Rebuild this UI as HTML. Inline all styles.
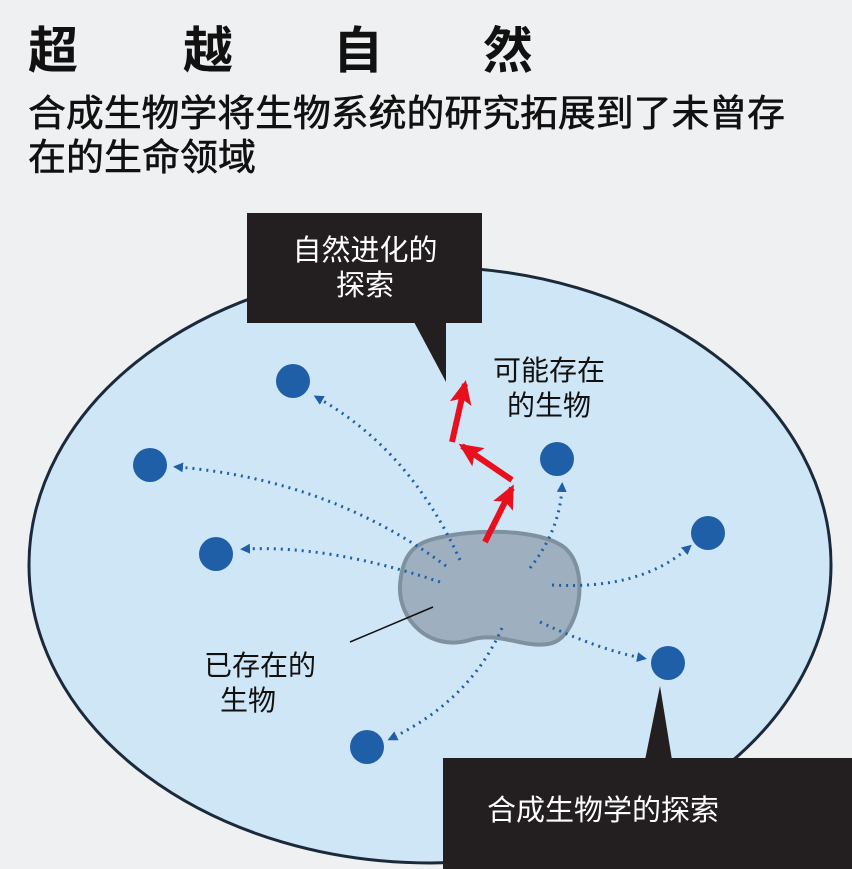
<!DOCTYPE html>
<html><head><meta charset="utf-8"><style>
html,body{margin:0;padding:0;background:#eef0f2;}
body{width:852px;height:869px;overflow:hidden;position:relative;font-family:"Liberation Sans","Noto Sans CJK SC",sans-serif;}
</style></head><body>
<svg width="852" height="869" viewBox="0 0 852 869" xmlns="http://www.w3.org/2000/svg" style="position:absolute;left:0;top:0">
<defs>
<marker id="ba" markerWidth="10" markerHeight="10" refX="5" refY="5" orient="auto" markerUnits="userSpaceOnUse"><path d="M0,0 L10,5 L0,10 Z" fill="#1f5fa8"/></marker>
<marker id="ra" markerWidth="24" markerHeight="22" refX="20" refY="11" orient="auto" markerUnits="userSpaceOnUse"><path d="M0,0 L24,11 L0,22 L5,11 Z" fill="#e8101e"/></marker>
</defs>
<ellipse cx="430" cy="565" rx="401" ry="298" fill="#cfe6f6" stroke="#1b2a3a" stroke-width="3"/>
<g font-family="Liberation Sans, Noto Sans CJK SC, sans-serif" font-weight="bold" font-size="50" fill="#111">
<text x="28" y="68">超</text><text x="183" y="68">越</text><text x="333" y="68">自</text><text x="483" y="68">然</text>
</g>
<g font-family="Liberation Sans, Noto Sans CJK SC, sans-serif" font-size="37" fill="#111" stroke="#111" stroke-width="0.6">
<text x="28" y="126" textLength="757" lengthAdjust="spacingAndGlyphs">合成生物学将生物系统的研究拓展到了未曾存</text>
<text x="28" y="170" textLength="228" lengthAdjust="spacingAndGlyphs">在的生命领域</text>
</g>
<path d="M414,322 L446,322 L446,382 Z" fill="#231f20"/>
<rect x="247" y="213" width="235" height="110" fill="#231f20"/>
<text x="365" y="260" text-anchor="middle" font-size="29" fill="#fff" font-family="Liberation Sans, Noto Sans CJK SC, sans-serif">自然进化的</text>
<text x="365" y="295" text-anchor="middle" font-size="29" fill="#fff" font-family="Liberation Sans, Noto Sans CJK SC, sans-serif">探索</text>
<path d="M430,540 C470,528 540,528 565,548 C590,570 580,630 555,642 C530,652 500,630 470,640 C430,652 398,620 400,585 C402,560 410,546 430,540 Z" fill="#9eb0bf" stroke="#7f909e" stroke-width="4"/>
<g fill="none" stroke="#1f5fa8" stroke-width="3" stroke-dasharray="2 5" marker-end="url(#ba)">
<path d="M460,560 Q410,450 318,398"/>
<path d="M446,566 Q330,480 178,467"/>
<path d="M440,582 Q330,545 245,549"/>
<path d="M530,568 Q560,530 562,487"/>
<path d="M552,585 Q640,590 688,548"/>
<path d="M540,622 Q600,650 642,658"/>
<path d="M502,628 Q470,700 392,738"/>
</g>
<line x1="350" y1="642" x2="433" y2="607" stroke="#111" stroke-width="1.5"/>
<g fill="#1f5fa8">
<circle cx="293" cy="381" r="17"/><circle cx="150" cy="465" r="17"/><circle cx="216" cy="554" r="17"/><circle cx="557" cy="459" r="17"/><circle cx="708" cy="533" r="17"/><circle cx="668" cy="663" r="17"/><circle cx="367" cy="747" r="17"/>
</g>
<g stroke="#e8101e" stroke-width="6" fill="none" marker-end="url(#ra)">
<line x1="485" y1="542" x2="512" y2="488"/>
<line x1="512" y1="480" x2="462" y2="446"/>
<line x1="452" y1="442" x2="465" y2="384"/>
</g>
<g font-family="Liberation Sans, Noto Sans CJK SC, sans-serif" font-size="28" fill="#111">
<text x="493" y="380">可能存在</text><text x="507" y="415">的生物</text>
<text x="204" y="675">已存在的</text><text x="220" y="710">生物</text>
</g>
<path d="M645,760 L672,760 L660,686 Z" fill="#231f20"/>
<rect x="443" y="758" width="409" height="111" fill="#231f20"/>
<text x="603" y="820" text-anchor="middle" font-size="29" fill="#fff" font-family="Liberation Sans, Noto Sans CJK SC, sans-serif">合成生物学的探索</text>
</svg>
</body></html>
